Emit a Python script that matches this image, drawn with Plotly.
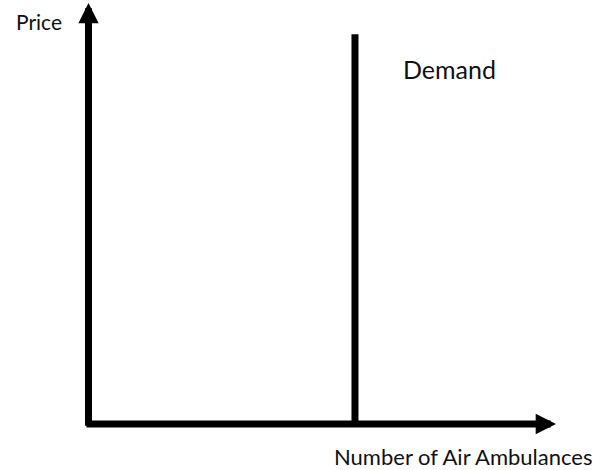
import plotly.graph_objects as go

# Data (axis units: origin 0, axis ends at 100)
quantity_axis_end = 100
price_axis_end = 100
demand_quantity = 57
demand_top_price = 92.6
x_label = "Number of Air Ambulances"
y_label = "Price"
demand_label = "Demand"

FONT = "Lato, 'Noto Sans', sans-serif"
LW = 7
X0, Y0 = 88.5, 424   # pixel of origin
SX = (556 - X0) / quantity_axis_end
SY = (Y0 - 3) / price_axis_end

fig = go.Figure()

# Vertical demand line
fig.add_trace(go.Scatter(
    x=[demand_quantity, demand_quantity], y=[0, demand_top_price],
    mode="lines", line=dict(color="black", width=LW), hoverinfo="skip", showlegend=False))

annotations = [
    # y-axis arrow
    dict(x=0, y=price_axis_end, ax=0, ay=-0.8, xref="x", yref="y", axref="x", ayref="y",
         showarrow=True, arrowhead=2, arrowsize=0.58, arrowwidth=LW, arrowcolor="black",
         standoff=0, startstandoff=0, text=""),
    # x-axis arrow
    dict(x=quantity_axis_end, y=0, ax=-0.75, ay=0, xref="x", yref="y", axref="x", ayref="y",
         showarrow=True, arrowhead=2, arrowsize=0.58, arrowwidth=LW, arrowcolor="black",
         standoff=0, startstandoff=0, text=""),
    dict(x=(38.5 - X0) / SX, y=(Y0 - 21) / SY, xref="x", yref="y", text=y_label, showarrow=False,
         font=dict(family=FONT, size=21, color="#111"), xanchor="center", yanchor="middle"),
    dict(x=(449 - X0) / SX, y=(Y0 - 69) / SY, xref="x", yref="y", text=demand_label, showarrow=False,
         font=dict(family=FONT, size=25, color="#111"), xanchor="center", yanchor="middle"),
    dict(x=(462.5 - X0) / SX, y=(Y0 - 456) / SY, xref="x", yref="y", text=x_label, showarrow=False,
         font=dict(family=FONT, size=22, color="#111"), xanchor="center", yanchor="middle"),
]

fig.update_layout(
    width=606, height=470,
    margin=dict(l=0, r=0, t=0, b=0),
    paper_bgcolor="white", plot_bgcolor="white",
    xaxis=dict(range=[-X0 / SX, (606 - X0) / SX], visible=False, fixedrange=True),
    yaxis=dict(range=[(Y0 - 470) / SY, Y0 / SY], visible=False, fixedrange=True),
    annotations=annotations,
    showlegend=False,
)

fig.write_html("out.html", config={"displayModeBar": False},
               post_script="document.body.style.margin='0';document.body.style.overflow='hidden';")
